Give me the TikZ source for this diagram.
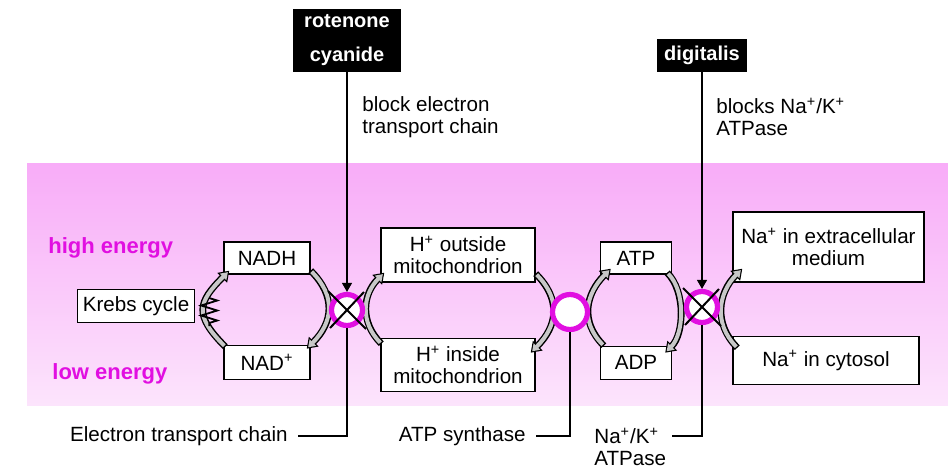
\documentclass[tikz,border=0pt]{standalone}
\usepackage{fontspec}
\setmainfont{Liberation Sans}
\usetikzlibrary{positioning,arrows.meta,decorations.pathmorphing}
\definecolor{mag}{RGB}{225,15,225}
\definecolor{bandtop}{RGB}{248,172,248}
\definecolor{bandbot}{RGB}{252,228,252}
\definecolor{shaft}{RGB}{200,200,200}
\newcommand{\ionp}{\textsuperscript{+}}
\tikzset{
  lbox/.style={draw,fill=white,line width=0.7pt,align=center,inner sep=0pt,font=\fontsize{10.3}{11}\selectfont},
  drug/.style={fill=black,text=white,align=center,inner sep=0pt,font=\fontsize{10}{17}\selectfont\bfseries},
  level/.style={text=mag,inner sep=0pt,anchor=west,font=\fontsize{11}{13}\selectfont\bfseries},
  note/.style={inner sep=0pt,align=left,font=\fontsize{10.3}{11}\selectfont},
  pump/.style={circle,draw=mag,line width=2.6pt,fill=white,inner sep=0pt},
  harrow/.style={draw=shaft,line width=2pt,-{Triangle[length=3.4pt,width=4.4pt]},
    shorten >=1pt,shorten <=0.7pt,
    preaction={draw=black,line width=3.4pt,-{Triangle[length=5pt,width=6.6pt]},shorten >=0pt,shorten <=0pt}},
  link/.style={line width=0.6pt},
  cross/.style={line width=1pt},
}

\begin{document}
\begin{tikzpicture}[x=0.5pt,y=0.5pt]
  \fill[white] (0,0) rectangle (948,-473);
  \useasboundingbox (0,0) rectangle (948,-473);
  % membrane band
  \shade[top color=bandtop,bottom color=bandbot] (27,-163) rectangle (948,-405);
  \node[level] (hi) at (48,-248) {high energy};
  \node[level] (lo) at (52,-374) {low energy};

  % inhibitors
  \node[drug,minimum width=54pt,minimum height=31.5pt] (rot) at (347,-40) {rotenone\\cyanide};
  \node[drug,minimum width=45pt,minimum height=16.5pt] (dig) at (702,-55) {digitalis};
  \node[note,anchor=west] (rotl) at (362,-117) {block electron\\transport chain};
  \node[note,anchor=west] (digl) at (716,-117) {blocks Na\ionp/K\ionp\\ATPase};

  % boxes
  \node[lbox,minimum width=58.5pt,minimum height=16.5pt] (krebs) at (136,-306) {Krebs cycle};
  \node[lbox,minimum width=43pt,minimum height=16pt] (nadh) at (267,-258) {NADH};
  \node[lbox,minimum width=43pt,minimum height=17pt,below=35pt of nadh] (nadp) {NAD\ionp};
  \node[lbox,minimum width=77pt,minimum height=27pt] (hout) at (458,-255) {H\ionp{} outside\\mitochondrion};
  \node[lbox,minimum width=77pt,minimum height=26.5pt,below=27.5pt of hout] (hin) {H\ionp{} inside\\mitochondrion};
  \node[lbox,minimum width=35.5pt,minimum height=16pt] (atp) at (636,-258) {ATP};
  \node[lbox,minimum width=35.5pt,minimum height=16.5pt,below=35.5pt of atp] (adp) {ADP};
  \node[lbox,minimum width=95.5pt,minimum height=35pt] (naout) at (828.5,-247) {Na\ionp{} in extracellular\\medium};
  \node[lbox,minimum width=93pt,minimum height=24pt,anchor=north west] (nain) at ([yshift=-26.5pt]naout.south west) {Na\ionp{} in cytosol};

  % coupled reactions
  \draw[harrow] ([shift={(2,-2)}]nadp.north west) to[out=135,in=225,looseness=1.5] ([shift={(6,4)}]nadh.south west);
  \draw[harrow] ([shift={(0,4)}]nadh.south east) to[out=-45,in=45,looseness=1.2] ([shift={(-4,-4)}]nadp.north east);
  \draw[harrow] ([shift={(1,-6)}]hin.north west) to[out=135,in=225,looseness=1.1] ([shift={(4,10)}]hout.south west);
  \draw[harrow] ([shift={(0,9)}]hout.south east) to[out=-45,in=45,looseness=1.2] ([shift={(-5,-15)}]hin.north east);
  \draw[harrow] ([shift={(4,0)}]adp.north west) to[out=135,in=225,looseness=1.15] ([shift={(11,6)}]atp.south west);
  \draw[harrow] ([shift={(-5,2)}]atp.south east) to[out=-45,in=45,looseness=0.85] ([shift={(-7,-7)}]adp.north east);
  \draw[harrow] ([shift={(5,-12)}]nain.north west) to[out=135,in=225,looseness=1.1] ([shift={(10,14)}]naout.south west);
  \draw[line width=0.9pt,decorate,decoration={zigzag,segment length=5pt,amplitude=4pt}]
    ([shift={(14,8)}]krebs.east) -- ([shift={(14,-20)}]krebs.east);

  % pumps
  \node[pump,minimum size=15.5pt] (etc) at (347,-310) {};
  \node[pump,minimum size=17.5pt] (syn) at (570,-312) {};
  \node[pump,minimum size=15.5pt] (nak) at (702,-307) {};
  \draw[cross] ([shift={(-19,19)}]etc.center) -- ([shift={(19,-19)}]etc.center);
  \draw[cross] ([shift={(-17,-18)}]etc.center) -- ([shift={(17,18)}]etc.center);
  \draw[cross] ([shift={(-19,19)}]nak.center) -- ([shift={(19,-19)}]nak.center);
  \draw[cross] ([shift={(-17,-18)}]nak.center) -- ([shift={(17,18)}]nak.center);

  % labels below
  \node[note,anchor=east,inner xsep=5pt] (etcl) at (298,-436) {Electron transport chain};
  \node[note,anchor=east,inner xsep=5pt] (synl) at (536,-436) {ATP synthase};
  \node[note,anchor=west] (nakl) at (594,-447) {Na\ionp/K\ionp\\ATPase};

  \draw[link,-{Triangle[length=4.5pt,width=5pt]}] (rot.south) -- (etc.north);
  \draw[link,-{Triangle[length=4.5pt,width=5pt]}] (dig.south) -- (nak.north);
  \draw[link] (etc.south) |- (etcl.east);
  \draw[link] (syn.south) |- (synl.east);
  \draw[link] (nak.south) |- ([xshift=2.5pt,yshift=5.5pt]nakl.east);
\end{tikzpicture}
\end{document}
